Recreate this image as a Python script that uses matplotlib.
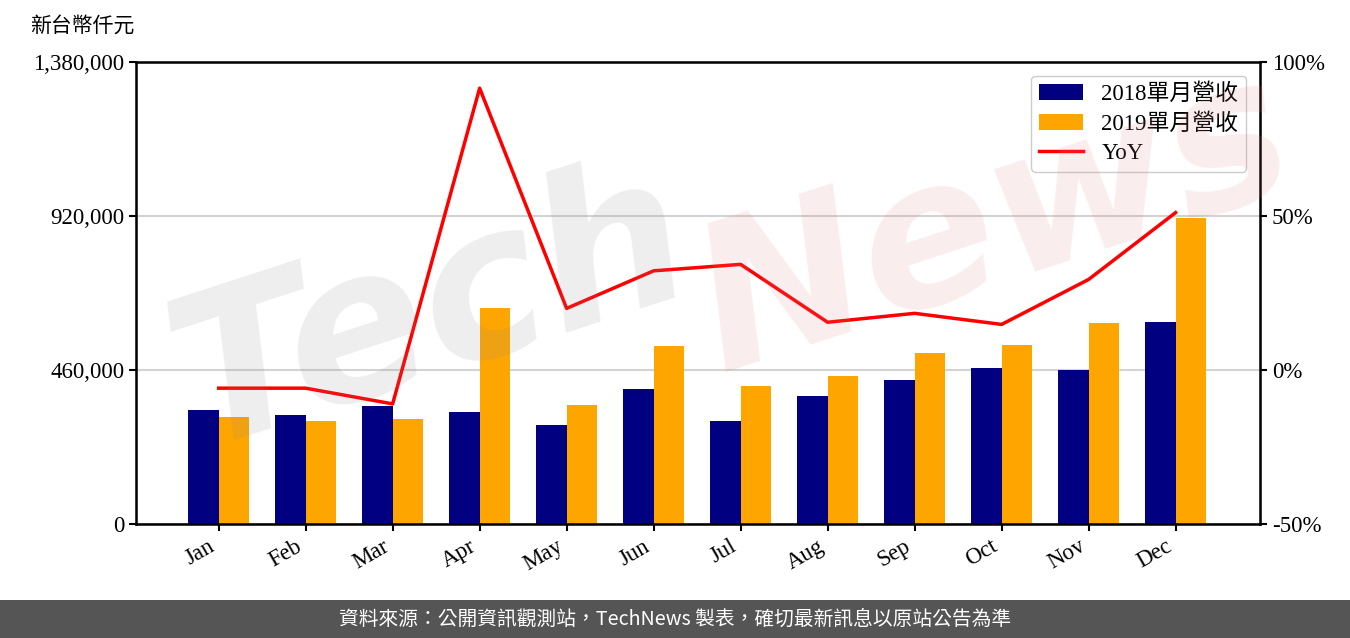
import matplotlib
matplotlib.use("Agg")
import matplotlib.pyplot as plt
from matplotlib.patches import Rectangle
from matplotlib.ticker import FuncFormatter
import numpy as np

SERIF = ["Liberation Serif", "Noto Sans CJK TC"]
SANS = ["Noto Sans CJK TC", "DejaVu Sans"]
plt.rcParams["font.family"] = SERIF

months = ["Jan", "Feb", "Mar", "Apr", "May", "Jun",
          "Jul", "Aug", "Sep", "Oct", "Nov", "Dec"]
rev_2018 = [340500, 325600, 352500, 335000, 295700, 403200,
            307700, 382300, 430100, 466000, 460000, 603400]
rev_2019 = [319600, 307700, 313600, 645200, 355500, 531700,
            412200, 442100, 510800, 534700, 600400, 914000]
yoy = [-5.9, -5.9, -11.0, 91.5, 20.0, 32.2,
       34.3, 15.5, 18.4, 14.8, 29.4, 51.1]
left_ticks = [0, 460000, 920000, 1380000]
right_ticks = [-50, 0, 50, 100]

W = 0.35
FS = 16.5

fig = plt.figure(figsize=(13.5, 6.38), dpi=100)
ax = fig.add_axes([136 / 1350, 1 - 524 / 638, (1260 - 136) / 1350, (524 - 62) / 638])
x = np.arange(len(months))

ax.bar(x - W / 2, rev_2018, W, color="#000080", label="2018單月營收", zorder=2)
ax.bar(x + W / 2, rev_2019, W, color="#ffa500", label="2019單月營收", zorder=2)
ax.set_ylim(0, 1380000)
ax.set_yticks(left_ticks)
ax.yaxis.set_major_formatter(FuncFormatter(lambda v, p: f"{int(v):,}"))
ax.yaxis.grid(True, color="#d3d3d3", lw=1.5, zorder=0)
ax.set_axisbelow(True)
ax.set_xticks(x)
ax.set_xticklabels(months, rotation=30, ha="right")
ax.set_xlim(-0.95, 11.97)
ax.tick_params(labelsize=FS, width=1.5, length=5)
for s in ax.spines.values():
    s.set_linewidth(1.8)

ax2 = ax.twinx()
ax2.plot(x, yoy, color="red", lw=2.5, label="YoY")
ax2.set_ylim(-50, 100)
ax2.set_yticks(right_ticks)
ax2.yaxis.set_major_formatter(FuncFormatter(lambda v, p: f"{int(v)}%"))
ax2.tick_params(labelsize=FS, width=1.5, length=5)

h1, l1 = ax.get_legend_handles_labels()
h2, l2 = ax2.get_legend_handles_labels()
ax2.legend(h1 + h2, l1 + l2, loc="upper right",
           prop={"family": SERIF, "size": FS}, framealpha=1,
           borderaxespad=0.6, handlelength=1.9, labelspacing=0.35,
           borderpad=0.35)

# watermark
fig.text(0.11, 0.3, "Tech", fontsize=150, fontstyle="italic", fontweight="bold",
         color="#888888", alpha=0.14, rotation=18, family="DejaVu Sans", zorder=10)
fig.text(0.5, 0.42, "News", fontsize=145, fontstyle="italic", fontweight="bold",
         color="#e08080", alpha=0.14, rotation=18, family="DejaVu Sans", zorder=10)

fig.text(30 / 1350, 1 - 27 / 638, "新台幣仟元", fontsize=15, family=SERIF,
         ha="left", va="center")

# footer band
fig.patches.append(Rectangle((0, 0), 1, 38 / 638, transform=fig.transFigure,
                             facecolor="#555555", edgecolor="none", zorder=0))
fig.text(0.5, 19 / 638, "資料來源：公開資訊觀測站，TechNews 製表，確切最新訊息以原站公告為準",
         color="white", fontsize=14.2, family=SANS, ha="center", va="center")

fig.savefig("out.png", dpi=100, facecolor="white")
